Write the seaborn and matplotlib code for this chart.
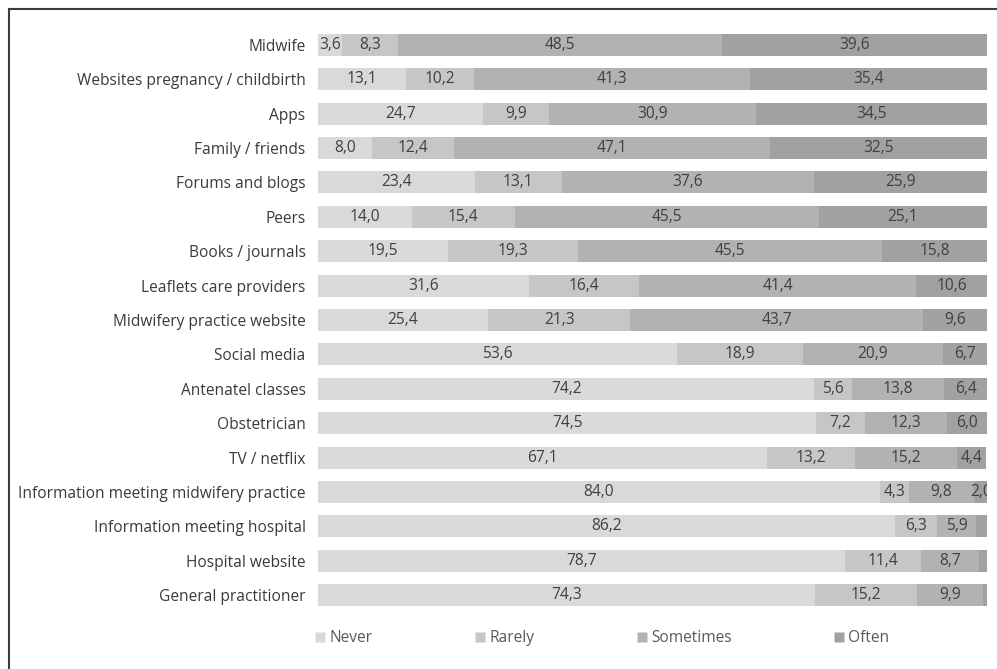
import numpy as np
import pandas as pd
import matplotlib
matplotlib.use("Agg")
import matplotlib.pyplot as plt
from matplotlib.lines import Line2D
import seaborn as sns

sources = ["Midwife", "Websites pregnancy / childbirth", "Apps", "Family / friends",
           "Forums and blogs", "Peers", "Books / journals", "Leaflets care providers",
           "Midwifery practice website", "Social media", "Antenatel classes",
           "Obstetrician", "TV / netflix", "Information meeting midwifery practice",
           "Information meeting hospital", "Hospital website", "General practitioner"]
never = [3.6, 13.1, 24.7, 8.0, 23.4, 14.0, 19.5, 31.6, 25.4, 53.6, 74.2, 74.5, 67.1, 84.0, 86.2, 78.7, 74.3]
rarely = [8.3, 10.2, 9.9, 12.4, 13.1, 15.4, 19.3, 16.4, 21.3, 18.9, 5.6, 7.2, 13.2, 4.3, 6.3, 11.4, 15.2]
sometimes = [48.5, 41.3, 30.9, 47.1, 37.6, 45.5, 45.5, 41.4, 43.7, 20.9, 13.8, 12.3, 15.2, 9.8, 5.9, 8.7, 9.9]
often = [39.6, 35.4, 34.5, 32.5, 25.9, 25.1, 15.8, 10.6, 9.6, 6.7, 6.4, 6.0, 4.4, 2.0, 1.6, 1.2, 0.6]
categories = ["Never", "Rarely", "Sometimes", "Often"]
colors = ["#d9d9d9", "#c6c6c6", "#b1b2b2", "#a0a2a2"]

plt.rcParams['font.family'] = ['Open Sans', 'DejaVu Sans']

df = pd.DataFrame({"source": sources, "Never": never, "Rarely": rarely,
                   "Sometimes": sometimes, "Often": often})
cum = df[categories].cumsum(axis=1)
cum["source"] = df["source"]

fig = plt.figure(figsize=(9.97, 6.69), dpi=100)
W, H = 997, 669
top_px, bot_px = 45 - 17.2, 595 + 17.2
ax = fig.add_axes([318 / W, 1 - bot_px / H, (987 - 318) / W, (bot_px - top_px) / H])

for cat, col in reversed(list(zip(categories, colors))):
    sns.barplot(data=cum, x=cat, y="source", order=sources, orient="h",
                color=col, width=0.64, saturation=1, ax=ax, edgecolor="none", linewidth=0)

ax.set_xlim(0, 100)
ax.set_ylim(len(sources) - 0.5, -0.5)
ax.set_xlabel("")
ax.set_ylabel("")
ax.set_xticks([])
for s in ax.spines.values():
    s.set_visible(False)
ax.tick_params(axis="y", length=0, pad=9, labelsize=11.2, labelcolor="#3a3a3a")

# value labels
for i, src in enumerate(sources):
    left = 0
    for cat in categories:
        v = df.loc[i, cat]
        if v >= 2:
            ax.text(left + v / 2, i, f"{v:.1f}".replace(".", ","), ha="center", va="center",
                    fontsize=11.2, color="#404040", clip_on=True)
        left += v

handles = [Line2D([], [], marker="s", linestyle="none", markersize=7,
                  markerfacecolor=c, markeredgecolor="none") for c in colors]
fig.legend(handles, categories, loc="center left", bbox_to_anchor=(300 / W, 1 - 638 / H),
           ncol=4, frameon=False, fontsize=11.2, labelcolor="#595959",
           handletextpad=0.2, columnspacing=6.5, handlelength=0.8)

# partial frame
fig.add_artist(Line2D([9 / W, 9 / W], [0, 1 - 9 / H], transform=fig.transFigure,
                      color="#3c3c3c", linewidth=1.5))
fig.add_artist(Line2D([9 / W, 1], [1 - 9 / H, 1 - 9 / H], transform=fig.transFigure,
                      color="#3c3c3c", linewidth=1.5))

fig.savefig("out.png", dpi=100)
